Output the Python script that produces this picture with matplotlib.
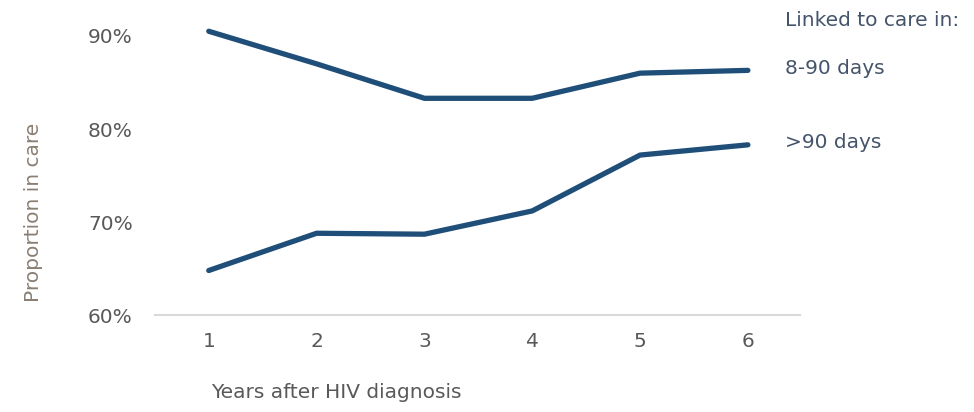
import matplotlib.pyplot as plt
import numpy as np

years = [1, 2, 3, 4, 5, 6]
early = [90.5, 87.0, 83.3, 83.3, 86.0, 86.3]   # linked in 8-90 days
late = [64.8, 68.8, 68.7, 71.2, 77.2, 78.3]    # linked in >90 days
yticks = [60, 70, 80, 90]

line_color = '#1F4E79'
tick_color = '#595959'
label_color = '#8a7f73'
legend_color = '#44546A'
fs = 14.5

fig = plt.figure(figsize=(9.74, 4.12), dpi=100)
ax = fig.add_axes([0.159, 0.235, 0.662, 0.723])

ax.plot(years, early, color=line_color, lw=3.8, solid_capstyle='round', solid_joinstyle='round')
ax.plot(years, late, color=line_color, lw=3.8, solid_capstyle='round', solid_joinstyle='round')

ax.set_xlim(0.5, 6.48)
ax.set_ylim(60, 92)
ax.set_xticks(years)
ax.set_yticks(yticks)
ax.set_yticklabels([f'{v}%' for v in yticks])
ax.tick_params(length=0, labelsize=fs, colors=tick_color)
ax.tick_params(axis='x', pad=12)
ax.tick_params(axis='y', pad=16)

for s in ['top', 'right', 'left']:
    ax.spines[s].set_visible(False)
ax.spines['bottom'].set_color('#D9D9D9')
ax.spines['bottom'].set_linewidth(1.5)

fig.text(0.034, 0.485, 'Proportion in care', rotation=90, ha='center', va='center',
         fontsize=fs, color=label_color)
fig.text(0.345, 0.048, 'Years after HIV diagnosis', ha='center', va='center',
         fontsize=fs, color=tick_color)

ax.text(6.34, 91.7, 'Linked to care in:', ha='left', va='center', fontsize=fs,
        color=legend_color, clip_on=False)
ax.text(6.34, early[-1] + 0.2, '8-90 days', ha='left', va='center', fontsize=fs,
        color=legend_color, clip_on=False)
ax.text(6.34, late[-1] + 0.2, '>90 days', ha='left', va='center', fontsize=fs,
        color=legend_color, clip_on=False)

fig.savefig('out.png', dpi=100)
